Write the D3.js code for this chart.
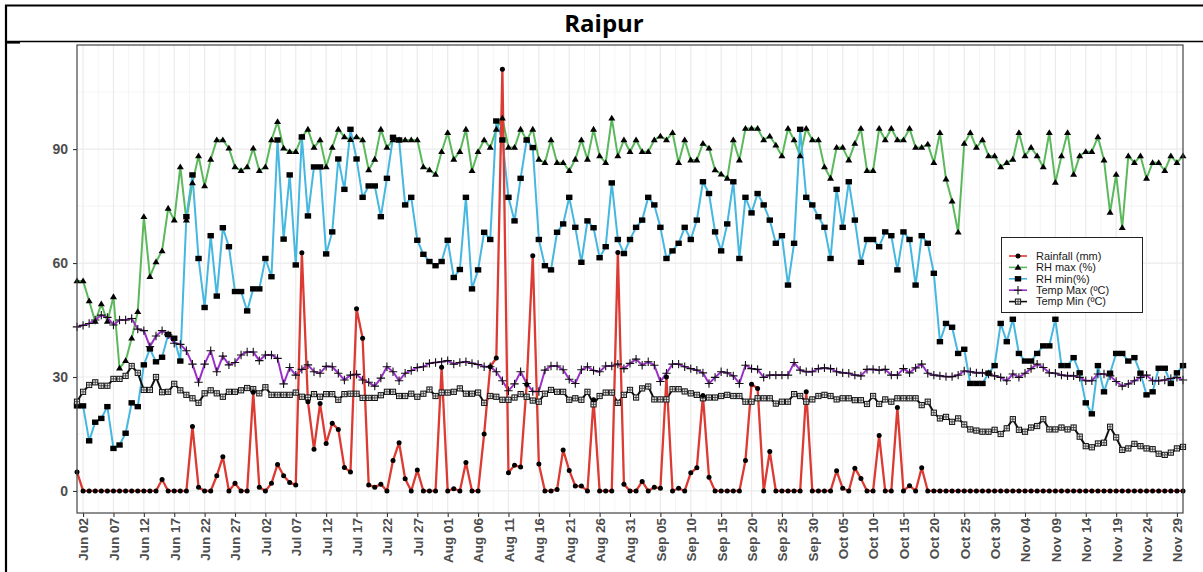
<!DOCTYPE html>
<html>
<head>
<meta charset="utf-8">
<script src="https://cdn.jsdelivr.net/npm/d3@7"></script>
<style>
  body { margin: 0; background: #ffffff; }
  svg { display: block; }
</style>
</head>
<body>
<svg id="chart" width="1203" height="572"></svg>
<script>
// ---- Daily weather record, Raipur (1 Jun – 30 Nov) ----
const startDate = "2021-06-01";
const endDate = "2021-11-30";

const rainfall = [
  5, 0, 0, 0, 0, 0, 0, 0, 0, 0,
  0, 0, 0, 0, 3, 0, 0, 0, 0, 17,
  1, 0, 0, 4, 9, 0, 2, 0, 0, 26,
  1, 0, 2, 7, 4, 2.2, 1.6, 62.7, 23.5, 11,
  23, 12.5, 17.8, 16.2, 6.2, 5, 48, 40.2, 1.6, 1,
  1.8, 0, 8, 12.7, 3.2, 0, 5.5, 0, 0, 0,
  32.6, 0, 0.6, 0, 7.5, 0, 0, 15, 32.7, 35,
  111, 4.8, 6.8, 6.3, 28, 61.9, 7.1, 0, 0, 0.4,
  10.8, 5.4, 1.3, 1.3, 0, 24, 0, 0, 0, 62.8,
  1.8, 0, 0, 2.5, 0, 1, 0.7, 30, 0, 0.7,
  0, 4.8, 6.1, 25.1, 3.6, 0, 0, 0, 0, 0,
  8, 28.1, 27, 0, 10.4, 0, 0, 0, 0, 0,
  26.1, 0, 0, 0, 0, 5.3, 0.7, 0, 6, 3.3,
  0, 0, 14.6, 0, 0, 22, 0, 1.4, 0, 6.1,
  0, 0, 0, 0, 0, 0, 0, 0, 0, 0,
  0, 0, 0, 0, 0, 0, 0, 0, 0, 0,
  0, 0, 0, 0, 0, 0, 0, 0, 0, 0,
  0, 0, 0, 0, 0, 0, 0, 0, 0, 0,
  0, 0, 0
];

const rhMax = [
  55.3, 55.3, 50, 44.6, 49.2, 44.6, 51.1, 32.3, 34.3, 40.2,
  47.2, 72.2, 56.4, 60.3, 63.2, 74.4, 71.3, 85.3, 71.3, 81.1,
  88.2, 80.3, 87.3, 92.4, 92.4, 90.2, 85.3, 84.3, 85.3, 90.2,
  84.3, 85.3, 92.4, 97.2, 90.2, 89.3, 89.3, 93.2, 95.2, 90.4,
  92.4, 85.3, 90.4, 95.2, 93.2, 92.5, 93.2, 92.4, 84.5, 87.3,
  95.2, 90.4, 92.4, 92.4, 92.4, 92.4, 92.4, 85.3, 84.5, 83.3,
  89.3, 94.3, 87.3, 89.3, 95.2, 84.3, 89.3, 92.4, 90.4, 95.2,
  98.1, 90.4, 90.4, 95.2, 92.4, 95.2, 87.3, 86.4, 92.4, 86.4,
  86.4, 84.3, 87.3, 92.4, 87.3, 95.2, 88.2, 86.4, 98.1, 88.2,
  92.4, 89.3, 92.4, 89.3, 89.3, 92.4, 93.4, 92.4, 94.3, 86.4,
  92.4, 87.1, 87.1, 91.5, 90.2, 84.5, 83.4, 82.3, 92.4, 87.1,
  95.4, 95.4, 95.4, 92.4, 93.4, 91, 88.2, 95.4, 92.4, 88.2,
  95.4, 92.4, 92.4, 85.3, 82.3, 90.4, 90.4, 87.1, 91.5, 95.4,
  84.3, 84.3, 95.4, 92.4, 95.4, 92.4, 92.4, 95.4, 90.4, 90.4,
  91.3, 86.4, 94.3, 82.1, 76.3, 68.1, 91.5, 94.3, 90.4, 92.4,
  88.2, 88.2, 85.3, 86.4, 87.3, 94.3, 88.2, 90.4, 88.2, 85.3,
  94.3, 81.2, 88.2, 94.3, 83.3, 88.2, 89.3, 89.3, 93.2, 87.1,
  73.3, 83.3, 69.3, 88.2, 86.4, 88.2, 82.3, 86.4, 86.4, 84.3,
  88.2, 86.4, 88.2
];

const rhMin = [
  22.4, 22.4, 13.2, 18.1, 19.1, 22.2, 11.2, 12.1, 15.2, 23.2,
  22.2, 33.2, 37.4, 34, 35.2, 41.2, 40.2, 34.2, 72.2, 83.2,
  61.2, 48.3, 67.2, 51.3, 69.3, 64.3, 52.5, 52.5, 47.4, 53.2,
  53.2, 61.2, 56.4, 92.4, 66.3, 83.2, 59.5, 93.2, 72.4, 85.3,
  85.3, 62.4, 68.2, 87.4, 79.4, 95.2, 87.4, 77.3, 80.3, 80.3,
  72.2, 82.3, 93.1, 92.4, 75.3, 77.3, 66, 62.3, 60.4, 59.3,
  60.4, 66, 56.2, 58.3, 77.3, 53.2, 58.2, 68.1, 66.2, 97.4,
  92.4, 77.3, 71.1, 82.3, 92.4, 90.4, 66.2, 59.3, 58.2, 68.1,
  70.3, 77.3, 69.4, 60.2, 71.1, 69.3, 61.4, 64.3, 81.1, 66.2,
  62.5, 66.2, 69.4, 71.3, 77.3, 75.3, 69.4, 61.2, 63.2, 65.2,
  69.4, 66.2, 71.3, 81.4, 78.3, 68.2, 63.2, 70.3, 81.4, 61.2,
  77.3, 73.2, 78.3, 75.3, 71.3, 65.2, 67.2, 54.2, 65.2, 95.2,
  77.3, 75.3, 72.2, 69.4, 61.2, 79.4, 69.4, 81.4, 71.3, 60.2,
  66.2, 66.2, 64.3, 68.2, 67.2, 58.2, 68.2, 66.2, 54.2, 67.2,
  65.2, 57.3, 39.3, 44.1, 43.1, 36.2, 37.3, 28.3, 28.3, 28.3,
  31, 33, 44.1, 39.3, 45.2, 36.2, 34.2, 34.2, 36.2, 38.2,
  38.2, 45.2, 33, 33, 35.1, 31.1, 23.2, 20.3, 33, 26.1,
  31, 36.2, 36.2, 34.2, 35.1, 31, 25.3, 26.1, 32.3, 32.3,
  28.3, 31.1, 33
];

const tempMax = [
  43.2, 43.6, 44.1, 45, 46.3, 45.7, 43.7, 45, 45, 45.4,
  42.6, 42.2, 38, 40.8, 42.2, 41.1, 38.9, 38.6, 36.9, 33.4,
  28.6, 33.4, 36.9, 31.4, 35.5, 33.2, 33.8, 35.8, 36.6, 36.6,
  34.3, 35.8, 35.8, 34.9, 28.2, 32.5, 30.5, 32, 33.2, 31.4,
  31, 32.8, 32.7, 31, 29.2, 30.5, 30.7, 29.2, 28.6, 27.6,
  29.7, 32.7, 31.4, 29, 31, 31.7, 32.5, 32.7, 33.6, 33.8,
  34, 34.3, 33.4, 33.8, 34, 33.6, 33.3, 32.7, 32.7, 31.4,
  29, 26.4, 28.2, 31.4, 28.3, 26.2, 26.2, 31.8, 32.9, 32.9,
  31.9, 29.4, 28.3, 31.9, 32.7, 31.7, 31.4, 32.9, 32.9, 33.4,
  32.2, 33.6, 34.7, 33.1, 34, 33.1, 28.8, 31, 33.4, 33.4,
  32.7, 32.2, 31.8, 31.1, 28.3, 29.9, 31.4, 31.1, 30.3, 28.3,
  33.1, 32.2, 32, 29.9, 30.5, 30.5, 30.5, 30.5, 33.8, 31.8,
  31.4, 31.4, 32.2, 32.4, 32.2, 31.4, 31.1, 31, 30.5, 30.3,
  32, 32, 31.8, 32, 30.5, 30.5, 32.2, 31.1, 32.4, 33.4,
  31, 30.5, 30.3, 30.1, 30.1, 30.5, 31.6, 31.4, 31.1, 31.1,
  30.8, 30.3, 29.9, 29, 30.8, 29.9, 31, 32.2, 33.4, 32.5,
  31.1, 31, 30.5, 30.3, 30.3, 29.9, 29, 29, 30.8, 30.8,
  30.3, 28.8, 27.6, 28.2, 29, 29.9, 30.5, 29, 29, 29.2,
  29.6, 29.9, 29.2
];

const tempMin = [
  23.5, 26.1, 27.9, 28.6, 27.7, 27.7, 29.5, 29.5, 30.3, 32.9,
  31.1, 26.6, 26.6, 30, 26, 26.1, 28.2, 26.5, 25.3, 24.4,
  23.2, 25.7, 26.5, 25.7, 24.8, 26.1, 26.1, 26.5, 27.1, 26.8,
  25.7, 27.3, 25.3, 25.3, 25.3, 25.3, 25.9, 24.8, 24.6, 25.5,
  24.8, 25.5, 25.5, 24, 25.5, 25.6, 25.6, 24.5, 24.5, 24.5,
  25.2, 26.1, 26.1, 25, 25, 25.6, 24.8, 25.6, 26.7, 25,
  25.9, 25.9, 26.1, 27, 25.6, 25.6, 25.9, 23.2, 25, 24.8,
  24, 24, 24.6, 25.5, 24.8, 23.8, 23.5, 25.6, 26.6, 26.1,
  26.1, 24, 24.4, 24, 26.1, 22.8, 25, 25.9, 25.9, 23.2,
  25.3, 26.6, 24.6, 27, 27.5, 24.1, 24.1, 24.1, 26.8, 26.8,
  26.2, 25.7, 25.3, 24.4, 24.6, 24.6, 25, 25.3, 25, 25,
  23.5, 23.5, 24.4, 24.4, 24.4, 23, 23.5, 23.5, 25.5, 25,
  23.5, 24.1, 25, 25.3, 25, 24.1, 24.4, 24.4, 23.9, 23.9,
  22.9, 25, 22.9, 24.1, 23.5, 24.4, 24.4, 24.4, 24.4, 22.6,
  23.5, 20.6, 19.1, 19.5, 18.2, 19.1, 17.5, 16.2, 15.9, 15.6,
  15.6, 16.1, 15, 16.5, 18.9, 16.1, 15.6, 16.7, 17.1, 18.9,
  16.2, 16.2, 16.7, 16.2, 16.7, 14.3, 11.8, 11.5, 12.5, 12.7,
  16.9, 14.1, 10.8, 11.2, 12.4, 11.8, 11.2, 11, 9.8, 9.5,
  10.1, 11.2, 11.6
];

// Axis ticks
const yTickValues = [0, 30, 60, 90];
const xTickFirst = "2021-06-02";
const xTickEveryDays = 5;
const xTickLast = "2021-11-29";

const chartTitle = "Raipur";
const legendLabels = ["Rainfall (mm)", "RH max (%)", "RH min(%)", "Temp Max (ºC)", "Temp Min (ºC)"];
const lineColors = ["#dc3b33", "#5cb85c", "#45b7e0", "#9b30c8", "#111111"];
const markerShapes = ["circle", "triangle", "square", "plus", "boxplus"];

// ---- Layout ----
const svg = d3.select("#chart");
const W = 1203, H = 572;
const panel = { left: 77, right: 1183, top: 45, bottom: 513 };

const parse = d3.utcParse("%Y-%m-%d");
const t0 = parse(startDate), t1 = parse(endDate);
const dates = rainfall.map((_, i) => d3.utcDay.offset(t0, i));

const x = d3.scaleUtc().domain([t0, t1]).range([panel.left, panel.right]);
const y = d3.scaleLinear().domain([-5.8, 117.4]).range([panel.bottom, panel.top]);

// ---- Page frame (table cell with title row) ----
const frame = svg.append("g");
frame.append("line").attr("x1", 5).attr("x2", W).attr("y1", 5.5).attr("y2", 5.5)
  .attr("stroke", "#000").attr("stroke-width", 2.2);
frame.append("line").attr("x1", 6).attr("x2", 6).attr("y1", 5).attr("y2", H)
  .attr("stroke", "#000").attr("stroke-width", 2.2);
frame.append("line").attr("x1", 5).attr("x2", W).attr("y1", 41.5).attr("y2", 41.5)
  .attr("stroke", "#000").attr("stroke-width", 1.6);
frame.append("rect").attr("x", 5).attr("y", 41).attr("width", 15).attr("height", 2.6).attr("fill", "#000");

svg.append("text")
  .attr("x", 604).attr("y", 32)
  .attr("text-anchor", "middle")
  .style("font-family", "'Open Sans', sans-serif")
  .style("font-weight", 700)
  .style("font-size", "24px")
  .attr("fill", "#000")
  .text(chartTitle);

// ---- Grid ----
const grid = svg.append("g");
const minorY = d3.range(15, 117, 30);
const majorXDates = d3.range(1, 182, xTickEveryDays).map(i => d3.utcDay.offset(t0, i));
const minorXDates = majorXDates.map(d => new Date(+d - 2.5 * 864e5)).filter(d => d >= t0);
minorXDates.push(new Date(+majorXDates[majorXDates.length - 1] + 2.5 * 864e5));

grid.selectAll(".gy-minor").data(minorY).join("line")
  .attr("x1", panel.left).attr("x2", panel.right)
  .attr("y1", d => y(d)).attr("y2", d => y(d))
  .attr("stroke", "#ececec").attr("stroke-width", 0.6);
grid.selectAll(".gx-minor").data(minorXDates.filter(d => d <= t1)).join("line")
  .attr("x1", d => x(d)).attr("x2", d => x(d))
  .attr("y1", panel.top).attr("y2", panel.bottom)
  .attr("stroke", "#ececec").attr("stroke-width", 0.6);
grid.selectAll(".gy-major").data(yTickValues).join("line")
  .attr("x1", panel.left).attr("x2", panel.right)
  .attr("y1", d => y(d)).attr("y2", d => y(d))
  .attr("stroke", "#ebebeb").attr("stroke-width", 1.2);
grid.selectAll(".gx-major").data(majorXDates).join("line")
  .attr("x1", d => x(d)).attr("x2", d => x(d))
  .attr("y1", panel.top).attr("y2", panel.bottom)
  .attr("stroke", "#ebebeb").attr("stroke-width", 1.2);

// ---- Axes ----
const yAxis = d3.axisLeft(y).tickValues(yTickValues).tickSize(4).tickPadding(5);
const gy = svg.append("g").attr("transform", `translate(${panel.left},0)`).call(yAxis);
gy.select(".domain").remove();
gy.selectAll("line").attr("stroke", "#333").attr("stroke-width", 1.1);
gy.selectAll("text")
  .style("font-family", "'Liberation Sans', Arial, sans-serif")
  .style("font-weight", 700).style("font-size", "14px").attr("fill", "#4d4d4d");

const xTickDates = d3.utcDay.range(parse(xTickFirst), d3.utcDay.offset(parse(xTickLast), 1), 1)
  .filter((d, i) => i % xTickEveryDays === 0);
const xAxis = d3.axisBottom(x).tickValues(xTickDates).tickFormat(d3.utcFormat("%b %d")).tickSize(4);
const gx = svg.append("g").attr("transform", `translate(0,${panel.bottom})`).call(xAxis);
gx.select(".domain").remove();
gx.selectAll("line").attr("stroke", "#333").attr("stroke-width", 1.1);
gx.selectAll("text")
  .attr("transform", "rotate(-90)")
  .attr("x", -5).attr("y", 0).attr("dy", "0.36em")
  .style("text-anchor", "end")
  .style("font-family", "'Liberation Sans', Arial, sans-serif")
  .style("font-weight", 700).style("font-size", "13.5px").attr("fill", "#4d4d4d");

// ---- Series ----
const series = [
  { key: legendLabels[0], values: rainfall, color: lineColors[0], shape: markerShapes[0], width: 2.3 },
  { key: legendLabels[1], values: rhMax, color: lineColors[1], shape: markerShapes[1], width: 2 },
  { key: legendLabels[2], values: rhMin, color: lineColors[2], shape: markerShapes[2], width: 2 },
  { key: legendLabels[3], values: tempMax, color: lineColors[3], shape: markerShapes[3], width: 2 },
  { key: legendLabels[4], values: tempMin, color: lineColors[4], shape: markerShapes[4], width: 2 }
];
const drawOrder = [1, 2, 3, 4, 0];

const line = d3.line().x((v, i) => x(dates[i])).y(v => y(v));

const plot = svg.append("g");
drawOrder.forEach(k => {
  const s = series[k];
  plot.append("path").datum(s.values)
    .attr("d", line).attr("fill", "none")
    .attr("stroke", s.color).attr("stroke-width", s.width)
    .attr("stroke-linejoin", "round");
});

function drawMarker(g, shape, cx, cy) {
  if (shape === "circle") {
    g.append("circle").attr("cx", cx).attr("cy", cy).attr("r", 2.5).attr("fill", "#000");
  } else if (shape === "triangle") {
    g.append("path").attr("d", `M${cx},${cy - 3.5}L${cx + 3.5},${cy + 2.3}L${cx - 3.5},${cy + 2.3}Z`).attr("fill", "#000");
  } else if (shape === "square") {
    g.append("rect").attr("x", cx - 3.2).attr("y", cy - 2.7).attr("width", 6.4).attr("height", 5.4).attr("fill", "#000");
  } else if (shape === "plus") {
    g.append("path").attr("d", `M${cx - 4.2},${cy}H${cx + 4.2}M${cx},${cy - 4.2}V${cy + 4.2}`)
      .attr("stroke", "#111").attr("stroke-width", 1.1).attr("fill", "none");
  } else if (shape === "boxplus") {
    g.append("rect").attr("x", cx - 2.6).attr("y", cy - 2.6).attr("width", 5.2).attr("height", 5.2)
      .attr("fill", "#e6e6e6").attr("stroke", "#111").attr("stroke-width", 1);
    g.append("path").attr("d", `M${cx - 2.6},${cy}H${cx + 2.6}M${cx},${cy - 2.6}V${cy + 2.6}`)
      .attr("stroke", "#333").attr("stroke-width", 0.8);
  }
}

const markers = svg.append("g");
drawOrder.forEach(k => {
  const s = series[k];
  const g = markers.append("g");
  s.values.forEach((v, i) => drawMarker(g, s.shape, x(dates[i]), y(v)));
});

// ---- Panel border ----
svg.append("rect")
  .attr("x", panel.left).attr("y", panel.top)
  .attr("width", panel.right - panel.left).attr("height", panel.bottom - panel.top)
  .attr("fill", "none").attr("stroke", "#444").attr("stroke-width", 1.2);

// ---- Legend ----
const lg = svg.append("g").attr("transform", "translate(1001,237)");
lg.append("rect").attr("x", 0.5).attr("y", 0.5).attr("width", 141).attr("height", 75)
  .attr("fill", "#fff").attr("stroke", "#222").attr("stroke-width", 1);
series.forEach((s, i) => {
  const cy = 19 + i * 11.4;
  lg.append("line").attr("x1", 8).attr("x2", 26).attr("y1", cy).attr("y2", cy)
    .attr("stroke", s.color).attr("stroke-width", 1.6);
  drawMarker(lg, s.shape, 17, cy);
  lg.append("text").attr("x", 35).attr("y", cy).attr("dy", "0.35em")
    .style("font-family", "'Liberation Sans', Arial, sans-serif")
    .style("font-size", "11px").attr("fill", "#1a1a1a")
    .text(s.key);
});
</script>
</body>
</html>
